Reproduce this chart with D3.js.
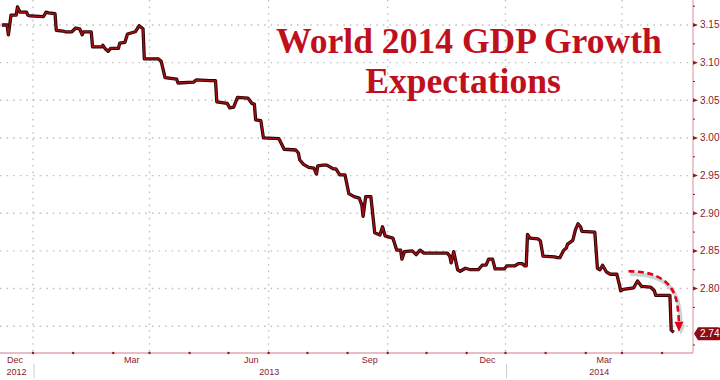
<!DOCTYPE html>
<html><head><meta charset="utf-8">
<script src="https://cdn.jsdelivr.net/npm/d3@7"></script>
<style>body{margin:0;background:#fff}svg{display:block}</style>
</head><body>
<svg id="c" width="720" height="380"></svg>
<script>
// ---- data ----
const dates = [
"2012-11-07","2012-11-11","2012-11-12","2012-11-14","2012-11-18","2012-11-19","2012-11-21","2012-11-26","2012-11-27","2012-11-29",
"2012-12-09","2012-12-11","2012-12-13","2012-12-18","2012-12-19","2012-12-24","2012-12-26","2012-12-31",
"2013-01-03","2013-01-06","2013-01-08","2013-01-09","2013-01-15","2013-01-16","2013-01-23","2013-01-24","2013-01-26","2013-01-28","2013-01-30",
"2013-02-05","2013-02-06","2013-02-10","2013-02-12","2013-02-18","2013-02-21","2013-02-24","2013-02-25",
"2013-03-08","2013-03-10","2013-03-13","2013-03-22","2013-03-23",
"2013-04-04","2013-04-06","2013-04-17","2013-04-21","2013-04-22","2013-04-30",
"2013-05-02","2013-05-05","2013-05-08","2013-05-16","2013-05-19","2013-05-21","2013-05-22","2013-05-26","2013-05-28",
"2013-06-09","2013-06-11","2013-06-13","2013-06-22","2013-06-24","2013-06-25","2013-06-28",
"2013-07-02","2013-07-06","2013-07-08","2013-07-09","2013-07-13","2013-07-16","2013-07-21","2013-07-23","2013-07-26","2013-07-30",
"2013-08-02","2013-08-06","2013-08-10","2013-08-12","2013-08-13","2013-08-15","2013-08-19","2013-08-22","2013-08-26","2013-08-28","2013-08-30",
"2013-09-05","2013-09-08","2013-09-11","2013-09-12","2013-09-14","2013-09-20","2013-09-23","2013-09-26","2013-09-29",
"2013-10-17","2013-10-19","2013-10-20","2013-10-22","2013-10-25","2013-10-27","2013-10-31",
"2013-11-04","2013-11-10","2013-11-13","2013-11-16","2013-11-18","2013-11-21","2013-11-23","2013-11-30",
"2013-12-02","2013-12-08","2013-12-11","2013-12-14","2013-12-16","2013-12-17","2013-12-18","2013-12-20","2013-12-26","2013-12-28","2013-12-30",
"2014-01-08","2014-01-10","2014-01-12","2014-01-15","2014-01-17","2014-01-18","2014-01-22","2014-01-24","2014-01-26","2014-01-28","2014-01-29",
"2014-02-08","2014-02-10","2014-02-12","2014-02-14","2014-02-17","2014-02-20","2014-02-25","2014-02-27","2014-02-28",
"2014-03-02","2014-03-10","2014-03-12","2014-03-13","2014-03-16","2014-03-23","2014-03-26","2014-03-27",
"2014-04-07","2014-04-08","2014-04-10"
];
const values = [
3.150,3.150,3.137,3.163,3.163,3.174,3.167,3.167,3.163,3.162,
3.161,3.167,3.166,3.165,3.143,3.142,3.141,3.141,
3.146,3.145,3.137,3.141,3.141,3.121,3.121,3.123,3.118,3.115,3.119,
3.119,3.126,3.127,3.138,3.141,3.149,3.145,3.105,
3.105,3.102,3.080,3.078,3.073,
3.074,3.077,3.076,3.076,3.048,3.046,
3.040,3.041,3.054,3.053,3.046,3.045,3.024,3.023,3.000,
2.999,2.992,2.985,2.984,2.980,2.971,2.965,
2.961,2.960,2.952,2.963,2.964,2.964,2.959,2.959,2.951,2.951,
2.926,2.922,2.920,2.911,2.896,2.922,2.922,2.874,2.871,2.882,2.870,
2.867,2.851,2.851,2.839,2.849,2.850,2.845,2.851,2.847,
2.847,2.843,2.834,2.849,2.825,2.823,2.827,
2.825,2.825,2.831,2.831,2.839,2.839,2.826,2.826,
2.830,2.830,2.833,2.833,2.830,2.830,2.872,2.867,2.866,2.863,2.843,
2.842,2.841,2.841,2.851,2.854,2.859,2.864,2.878,2.886,2.882,2.876,
2.875,2.827,2.825,2.831,2.822,2.819,2.819,2.805,2.797,
2.799,2.801,2.807,2.810,2.803,2.802,2.797,2.791,
2.791,2.745,2.742
];
const yTicks = [2.75,2.80,2.85,2.90,2.95,3.00,3.05,3.10,3.15];
const monthTickDates = ["2012-12-01","2013-03-01","2013-06-01","2013-09-01","2013-12-01","2014-03-01"];
const monthTickLabels = ["Dec","Mar","Jun","Sep","Dec","Mar"];
const yearLabels = ["2012","2013","2014"];
const yearBounds = ["2012-12-01","2013-12-01"];
const lastValueLabel = "2.74";
const titleLines = ["World 2014 GDP Growth","Expectations"];
// annotation arrow path (date, value)
const arrowDates = ["2014-03-06","2014-03-21","2014-04-03","2014-04-10","2014-04-13","2014-04-14"];
const arrowValues = [2.823,2.822,2.812,2.797,2.780,2.756];

// ---- scales ----
const parse = d3.timeParse("%Y-%m-%d");
const data = dates.map((d,i)=>({date:parse(d), value:values[i]}));
const axisX=693, axisY=353;
const x = d3.scaleTime().domain([parse("2012-12-01"), parse("2014-03-01")]).range([33,622]);
const y = d3.scaleLinear().domain([2.7144,3.1832]).range([axisY,0]);
const svg = d3.select("#c");
const labelCol = "#8b1a2b";

// gridlines
const grid = svg.append("g");
grid.selectAll("line.h").data(yTicks).join("line")
  .attr("x1",0).attr("x2",axisX).attr("y1",d=>y(d)).attr("y2",d=>y(d))
  .attr("stroke","#c2c2c2").attr("stroke-width",1.4).attr("stroke-dasharray","1.6,5");
grid.selectAll("line.v").data(monthTickDates).join("line")
  .attr("x1",d=>x(parse(d))).attr("x2",d=>x(parse(d))).attr("y1",0).attr("y2",axisY)
  .attr("stroke","#c2c2c2").attr("stroke-width",1.4).attr("stroke-dasharray","1.6,5");

// title
svg.append("g").selectAll("text").data(titleLines).join("text")
  .attr("x",(d,i)=>i===0?469:463).attr("y",(d,i)=>i===0?53:93)
  .attr("text-anchor","middle")
  .attr("font-family","'Liberation Serif','Times New Roman',serif")
  .attr("font-weight","bold").attr("font-size",35.6).attr("fill","#c0101e")
  .text(d=>d);

// axes lines
svg.append("line").attr("x1",0).attr("x2",axisX).attr("y1",axisY).attr("y2",axisY)
  .attr("stroke","#e3a6b0").attr("stroke-width",1.5);
svg.append("line").attr("x1",axisX).attr("x2",axisX).attr("y1",0).attr("y2",axisY)
  .attr("stroke","#dca3ac").attr("stroke-width",1.2);

// bottom monthly ticks
const months = d3.timeMonth.range(parse("2012-12-01"), parse("2014-05-01"));
svg.append("g").selectAll("circle").data(months.filter(m=>x(m)<axisX)).join("circle")
  .attr("cx",d=>x(d)).attr("cy",axisY).attr("r",1.2).attr("fill",labelCol);

// month labels
const xa = svg.append("g").attr("font-family","'Liberation Sans',Arial,sans-serif").attr("font-size",9).attr("fill",labelCol);
xa.selectAll("text.m").data(monthTickDates).join("text")
  .attr("x",d=>x(parse(d))-10).attr("y",363).attr("text-anchor","end")
  .text((d,i)=>monthTickLabels[i]);
const bx = [0, ...yearBounds.map(d=>x(parse(d))), axisX];
xa.selectAll("text.yr").data(yearLabels).join("text")
  .attr("x",(d,i)=>(bx[i]+bx[i+1])/2).attr("y",375).attr("text-anchor","middle")
  .text(d=>d);
svg.append("g").selectAll("line").data(yearBounds).join("line")
  .attr("x1",d=>x(parse(d))+1).attr("x2",d=>x(parse(d))+1).attr("y1",364).attr("y2",378)
  .attr("stroke","#cccccc").attr("stroke-width",1);

// right axis ticks & labels
const ra = svg.append("g");
const minor = d3.range(2.725,3.2,0.05);
ra.selectAll("line").data(minor.filter(v=>y(v)>0&&y(v)<axisY)).join("line")
  .attr("x1",axisX).attr("x2",axisX+2).attr("y1",d=>y(d)).attr("y2",d=>y(d))
  .attr("stroke",labelCol).attr("stroke-width",1);
ra.selectAll("path").data(yTicks.filter(v=>v>2.76)).join("path")
  .attr("d",d=>`M${axisX},${y(d)-2}L${axisX+5},${y(d)}L${axisX},${y(d)+2}Z`).attr("fill",labelCol);
ra.selectAll("text").data(yTicks.filter(v=>v>2.76)).join("text")
  .attr("x",700).attr("y",d=>y(d)+3.5)
  .attr("font-family","'Liberation Sans',Arial,sans-serif").attr("font-size",10).attr("fill",labelCol)
  .text(d=>d.toFixed(2));

// series line
const line = d3.line().x(d=>x(d.date)).y(d=>y(d.value));
svg.append("path").datum(data).attr("d",line).attr("fill","none")
  .attr("stroke","#2a0204").attr("stroke-width",3.3).attr("stroke-linejoin","round");
svg.append("path").datum(data).attr("d",line).attr("fill","none")
  .attr("stroke","#a00f14").attr("stroke-width",1.5).attr("stroke-linejoin","round");

// annotation arrow
const adata = arrowDates.map((d,i)=>({date:parse(d), value:arrowValues[i]}));
const aline = d3.line().x(d=>x(d.date)).y(d=>y(d.value)).curve(d3.curveBasis);
svg.append("path").datum(adata).attr("d",aline).attr("fill","none")
  .attr("transform","translate(2,3)")
  .attr("stroke","#b8cccc").attr("stroke-width",4).attr("opacity",0.8);
svg.append("path").datum(adata).attr("d",aline).attr("fill","none")
  .attr("stroke","#e3001b").attr("stroke-width",2.6).attr("stroke-dasharray","6,3.5");
const tip = adata[adata.length-1];
const tx = x(tip.date), ty = y(tip.value);
svg.append("path").attr("d",`M${tx-4.5+2},${ty+3}L${tx+4.5+2},${ty+3}L${tx+2},${ty+13}Z`).attr("fill","#b8cccc").attr("opacity",0.8);
svg.append("path").attr("d",`M${tx-4.5},${ty}L${tx+4.5},${ty}L${tx},${ty+10}Z`).attr("fill","#e3001b");

// last value label
const ly = y(+lastValueLabel);
svg.append("path")
  .attr("d",`M${axisX+1},${ly}L${axisX+5},${ly-6.5}H718a3,3 0 0 1 3,3V${ly+3.5}a3,3 0 0 1 -3,3H${axisX+5}Z`)
  .attr("fill","#8e0a14");
svg.append("text").attr("x",700).attr("y",ly+3.5)
  .attr("font-family","'Liberation Sans',Arial,sans-serif").attr("font-size",10).attr("fill","#fff")
  .text(lastValueLabel);
</script>
</body></html>
